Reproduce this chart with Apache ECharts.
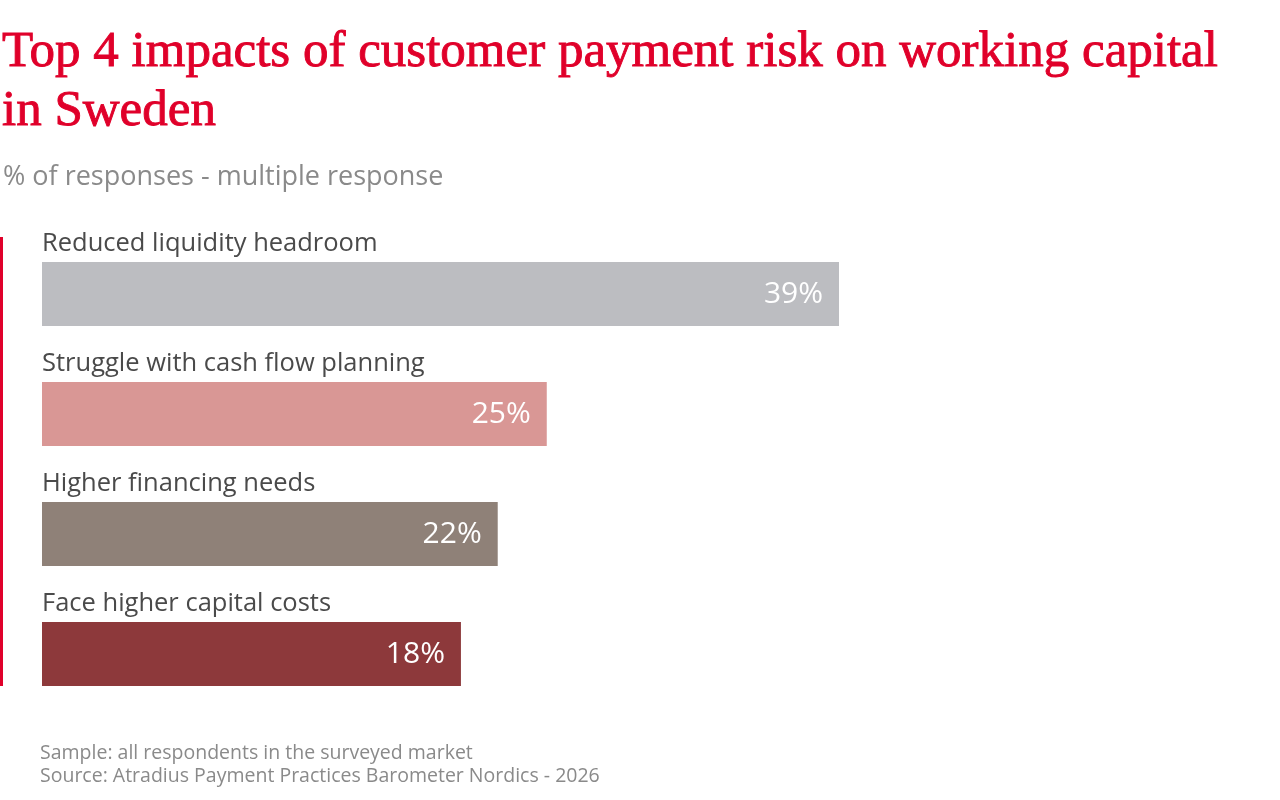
<!DOCTYPE html>
<html>
<head>
<meta charset="utf-8">
<script src="https://cdn.jsdelivr.net/npm/echarts@6/dist/echarts.min.js"></script>
<style>
  html, body { margin: 0; padding: 0; background: #fff; }
  #chart { width: 1280px; height: 800px; }
</style>
</head>
<body>
<div id="chart"></div>
<script>
// data
const categories = ['Reduced liquidity headroom', 'Struggle with cash flow planning', 'Higher financing needs', 'Face higher capital costs'];
const shareLabels = ['39%', '25%', '22%', '18%'];
// bar lengths as drawn in the picture (same scale as the 39% bar)
const barLengths = [39, 24.7, 22.3, 20.5];
const barColors = ['#bcbdc1', '#d99795', '#8f8178', '#8d393b'];

const chart = echarts.init(document.getElementById('chart'));

const sans = 'Open Sans';

const option = {
  animation: false,
  title: [
    {
      text: 'Top 4 impacts of customer payment risk on working capital\nin Sweden',
      left: -3, top: 18,
      textStyle: {
        fontFamily: 'Liberation Serif', fontSize: 51, fontWeight: 'normal', color: '#e0002a', lineHeight: 59,
        textBorderColor: '#e0002a', textBorderWidth: 0.9
      }
    },
    {
      text: '% of responses - multiple response',
      left: -2, top: 159,
      textStyle: { fontFamily: sans, fontSize: 27, fontWeight: 'normal', color: '#8a8a8a' }
    },
    {
      text: 'Sample: all respondents in the surveyed market\nSource: Atradius Payment Practices Barometer Nordics - 2026',
      left: 35, top: 737,
      textStyle: { fontFamily: sans, fontSize: 19.5, fontWeight: 'normal', color: '#8a8a8a', lineHeight: 23 }
    }
  ],
  graphic: [
    { type: 'rect', shape: { x: 0, y: 237, width: 3, height: 449 }, style: { fill: '#e0002a' } }
  ],
  grid: { left: 42, top: 234, width: 797, height: 480 },
  xAxis: { type: 'value', min: 0, max: 39, show: false },
  yAxis: { type: 'category', data: categories, inverse: true, show: false },
  series: [
    {
      type: 'bar',
      barWidth: 64,
      data: barLengths.map((v, i) => ({ value: v, itemStyle: { color: barColors[i] } })),
      label: {
        show: true,
        position: 'insideRight',
        distance: 16,
        formatter: p => shareLabels[p.dataIndex],
        fontFamily: sans, fontSize: 30, color: '#fff'
      }
    },
    {
      type: 'bar',
      barWidth: 64,
      barGap: '-100%',
      silent: true,
      data: barLengths,
      itemStyle: { color: 'transparent' },
      label: {
        show: true,
        position: [0, -18],
        verticalAlign: 'middle',
        align: 'left',
        formatter: p => categories[p.dataIndex],
        fontFamily: sans, fontSize: 25.5, color: '#4a4a4a'
      }
    }
  ]
};

chart.setOption(option);
</script>
</body>
</html>
